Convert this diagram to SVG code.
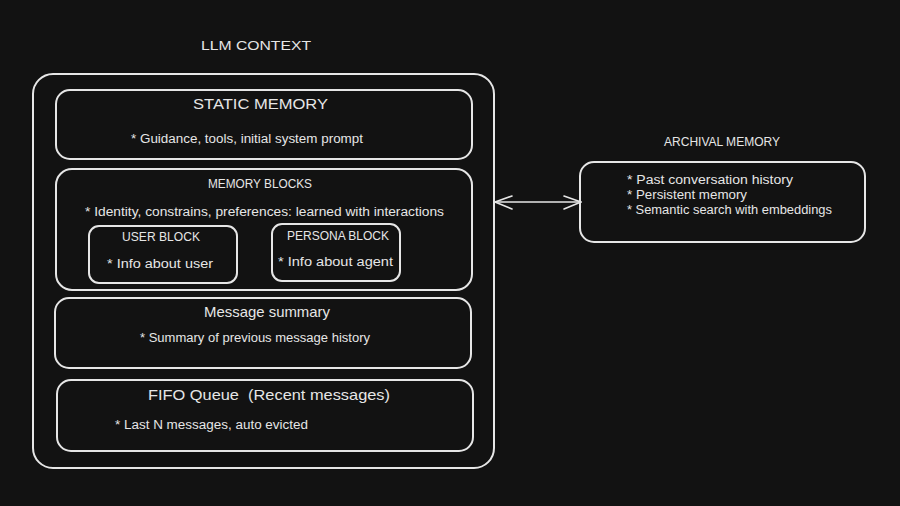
<svg xmlns="http://www.w3.org/2000/svg" width="900" height="506" viewBox="0 0 900 506">
<style>
.box{fill:none;stroke:#e6e6e6;stroke-width:2;}
.t{fill:#e6e6e6;font-family:"Liberation Sans","DejaVu Sans",sans-serif;}
.title{font-size:15px;}
.cap{font-size:12px;}
.b{font-size:12.5px;}
.conn{fill:none;stroke:#e6e6e6;stroke-width:1.6;stroke-linecap:round;stroke-linejoin:round;}
</style>
<rect width="900" height="506" fill="#121212"/>
<text class="t cap" x="201" y="50" textLength="110" lengthAdjust="spacingAndGlyphs">LLM CONTEXT</text>
<g id="llm-context">
<rect class="box" x="33" y="74" width="461" height="394" rx="20"/>
</g>
<g id="static-memory">
<rect class="box" x="56" y="90" width="416" height="69" rx="14"/>
<text class="t title" x="193" y="109" textLength="135" lengthAdjust="spacingAndGlyphs">STATIC MEMORY</text>
<text class="t b" x="131" y="143" textLength="232" lengthAdjust="spacingAndGlyphs">* Guidance, tools, initial system prompt</text>
</g>
<g id="memory-blocks">
<rect class="box" x="56" y="169" width="416" height="121" rx="16"/>
<text class="t cap" x="208" y="188" textLength="104" lengthAdjust="spacingAndGlyphs">MEMORY BLOCKS</text>
<text class="t b" x="85" y="216" textLength="359" lengthAdjust="spacingAndGlyphs">* Identity, constrains, preferences: learned with interactions</text>
</g>
<g id="user-block">
<rect class="box" x="89" y="226" width="148" height="57" rx="10"/>
<text class="t cap" x="122" y="241" textLength="78" lengthAdjust="spacingAndGlyphs">USER BLOCK</text>
<text class="t b" x="107" y="268" textLength="106" lengthAdjust="spacingAndGlyphs">* Info about user</text>
</g>
<g id="persona-block">
<rect class="box" x="272" y="224" width="128" height="57" rx="10"/>
<text class="t cap" x="287" y="240" textLength="102" lengthAdjust="spacingAndGlyphs">PERSONA BLOCK</text>
<text class="t b" x="278" y="266" textLength="115" lengthAdjust="spacingAndGlyphs">* Info about agent</text>
</g>
<g id="message-summary">
<rect class="box" x="55" y="298" width="416" height="70" rx="14"/>
<text class="t title" x="204" y="317" textLength="126" lengthAdjust="spacingAndGlyphs">Message summary</text>
<text class="t b" x="140" y="342" textLength="230" lengthAdjust="spacingAndGlyphs">* Summary of previous message history</text>
</g>
<g id="fifo-queue">
<rect class="box" x="57" y="380" width="416" height="71" rx="14"/>
<text class="t title" x="148" y="400" textLength="242" lengthAdjust="spacingAndGlyphs" xml:space="preserve">FIFO Queue  (Recent messages)</text>
<text class="t b" x="115" y="429" textLength="193" lengthAdjust="spacingAndGlyphs">* Last N messages, auto evicted</text>
</g>
<text class="t cap" x="664" y="146" textLength="116" lengthAdjust="spacingAndGlyphs">ARCHIVAL MEMORY</text>
<g id="archival-memory">
<rect class="box" x="580" y="162" width="285" height="80" rx="14"/>
<text class="t b" x="627" y="184" textLength="166" lengthAdjust="spacingAndGlyphs">* Past conversation history</text>
<text class="t b" x="627" y="199" textLength="120" lengthAdjust="spacingAndGlyphs">* Persistent memory</text>
<text class="t b" x="627" y="214" textLength="205" lengthAdjust="spacingAndGlyphs">* Semantic search with embeddings</text>
</g>
<g id="connectors">
<path class="conn" d="M495 202 L581 202"/>
<path class="conn" d="M512 196 L495 202 L512 209"/>
<path class="conn" d="M564 196 L581 202 L564 209"/>
</g>
</svg>
